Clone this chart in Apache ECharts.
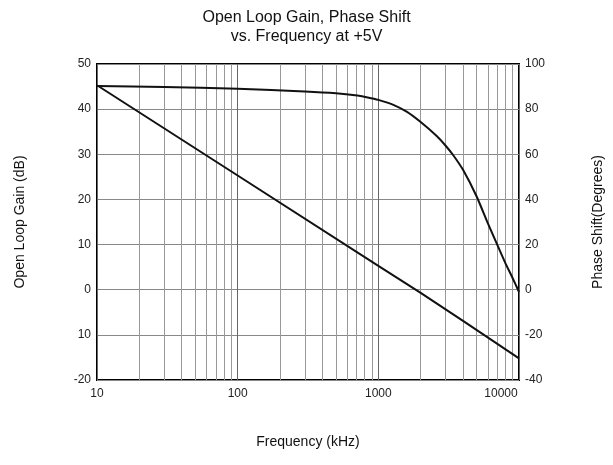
<!DOCTYPE html>
<html>
<head>
<meta charset="utf-8">
<script src="https://cdn.jsdelivr.net/npm/echarts@6/dist/echarts.min.js"></script>
<style>
  html, body { margin: 0; padding: 0; background: #fff; }
  #main { width: 613px; height: 465px; }
</style>
</head>
<body>
<div id="main"></div>
<script>
// data
var gainFreq = [10, 100, 1000, 2000, 4000, 10000];
var gainDb = [45.3, 25.3, 5.3, -0.7, -6.9, -15.2];

var phaseFreq = [10, 30, 100, 300, 500, 710, 840, 1000, 1290, 1600, 2000, 2600, 3000, 3400, 4000, 5000, 6000, 7000, 8000, 9000, 10000];
var phaseDeg = [90.3, 89.8, 89, 87.8, 87.0, 86.0, 85.2, 84.1, 81.8, 78.8, 74.3, 68.1, 63.9, 59.7, 53.1, 41.3, 29.5, 20, 11.8, 5.2, -1];

var xTicks = [10, 100, 1000, 10000];
// log grid lines inside each decade
var gridFreqs = [20, 30, 40, 50, 60, 70, 80, 90,
                 200, 300, 400, 500, 600, 700, 800, 900,
                 2000, 3000, 4000, 5000, 6000, 7000, 8000, 9000];

function pairs(xs, ys) {
    return xs.map(function (x, i) { return [x, ys[i]]; });
}

var chart = echarts.init(document.getElementById('main'));
var font = 'Liberation Sans, Arial, sans-serif';

var option = {
    backgroundColor: '#fff',
    animation: false,
    title: {
        text: 'Open Loop Gain, Phase Shift\nvs. Frequency at +5V',
        left: 'center',
        top: 3,
        textStyle: { fontFamily: font, fontSize: 16, fontWeight: 'normal', color: '#111', lineHeight: 19 }
    },
    grid: {
        left: 97, top: 64, right: 90, bottom: 85,
        show: true, borderColor: '#000', borderWidth: 2, backgroundColor: 'transparent'
    },
    xAxis: {
        type: 'log',
        min: 10,
        max: 10000,
        logBase: 10,
        name: 'Frequency (kHz)',
        nameLocation: 'middle',
        nameGap: 55,
        nameTextStyle: { fontFamily: font, fontSize: 14, color: '#111' },
        axisLine: { show: false },
        axisTick: { show: false },
        axisLabel: {
            fontFamily: font, fontSize: 12, color: '#222', margin: 8,
            formatter: function (v) {
                if (v >= 10000) return '{r|' + v + '}';
                return v;
            },
            rich: { r: { fontFamily: font, fontSize: 12, color: '#222', padding: [0, 36, 0, 0] } }
        },
        splitLine: { show: true, lineStyle: { color: '#666', width: 1 } }
    },
    yAxis: [{
        type: 'value',
        min: -20,
        max: 50,
        interval: 10,
        name: 'Open Loop Gain (dB)',
        nameLocation: 'middle',
        nameGap: 70,
        nameTextStyle: { fontFamily: font, fontSize: 14, color: '#111' },
        axisLine: { show: false },
        axisTick: { show: false },
        axisLabel: {
            fontFamily: font, fontSize: 12, color: '#222', margin: 6,
            formatter: function (v) { return v === -10 ? '10' : String(v); }
        },
        splitLine: { show: true, lineStyle: { color: '#888', width: 1 } }
    }, {
        type: 'value',
        min: -40,
        max: 100,
        interval: 20,
        position: 'right',
        name: 'Phase Shift(Degrees)',
        nameLocation: 'middle',
        nameGap: 72,
        nameRotate: 90,
        nameTextStyle: { fontFamily: font, fontSize: 14, color: '#111' },
        axisLine: { show: false },
        axisTick: { show: false },
        axisLabel: { fontFamily: font, fontSize: 12, color: '#222', margin: 6 },
        splitLine: { show: false }
    }],
    series: [{
        name: 'Gain',
        type: 'line',
        yAxisIndex: 0,
        data: pairs(gainFreq, gainDb),
        showSymbol: false,
        lineStyle: { color: '#111', width: 2 },
        markLine: {
            silent: true,
            symbol: 'none',
            label: { show: false },
            lineStyle: { color: '#999', width: 1, type: 'solid' },
            data: gridFreqs.map(function (f) { return { xAxis: f }; }),
            z: 1
        },
        z: 5
    }, {
        name: 'Phase',
        type: 'line',
        yAxisIndex: 1,
        data: pairs(phaseFreq, phaseDeg),
        showSymbol: false,
        smooth: 0.2,
        lineStyle: { color: '#111', width: 2 },
        z: 5
    }]
};

chart.setOption(option);
</script>
</body>
</html>
